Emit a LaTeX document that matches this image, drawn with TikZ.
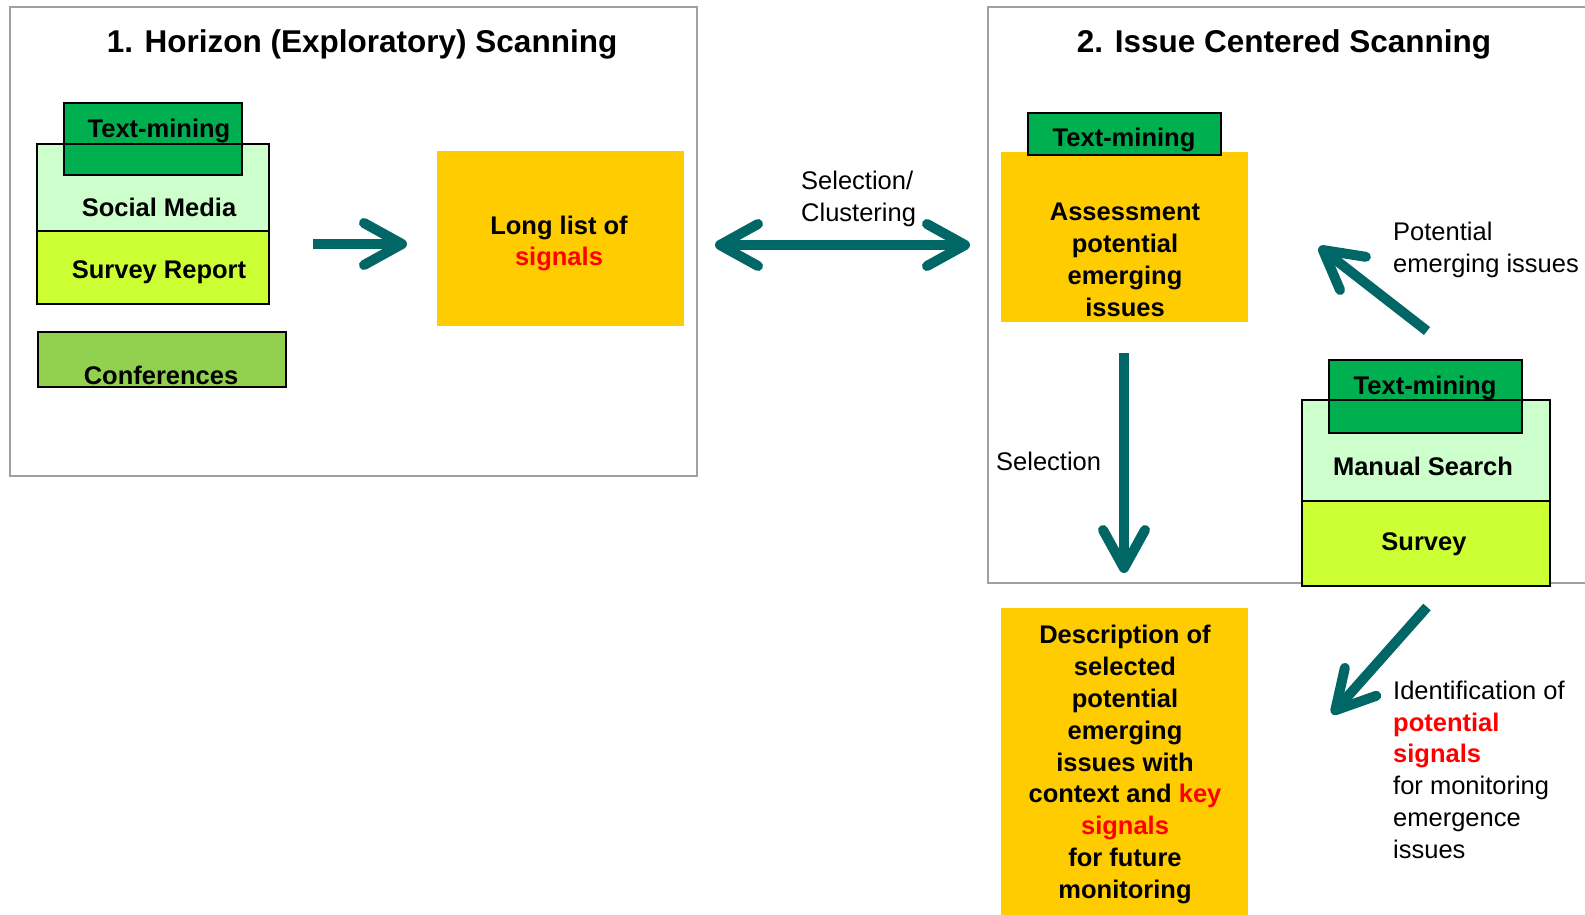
\documentclass[tikz,border=0pt]{standalone}
\usepackage{fontspec}
\setmainfont{Liberation Sans}
\usetikzlibrary{arrows.meta}
\definecolor{tmgreen}{HTML}{00B050}
\definecolor{palegreen}{HTML}{CCFFCC}
\definecolor{limegreen}{HTML}{CCFF33}
\definecolor{confgreen}{HTML}{92D050}
\definecolor{boxorange}{HTML}{FFCC00}
\definecolor{flowteal}{HTML}{006666}
\definecolor{panelgray}{HTML}{A0A0A0}
\definecolor{sigred}{HTML}{FF0000}
\begin{document}
\begin{tikzpicture}[x=1pt,y=-1pt,
  box/.style={draw=black,line width=1.8pt,anchor=north west,inner sep=0pt,outer sep=0pt},
  plainbox/.style={anchor=north west,inner sep=0pt,outer sep=0pt},
  panel/.style={draw=panelgray,line width=1.2pt},
  btext/.style={font=\fontsize{25.5}{31.9}\selectfont\bfseries,align=center,inner sep=0pt},
  rtext/.style={font=\fontsize{25.5}{31.9}\selectfont,align=left,inner sep=0pt},
  ttext/.style={font=\fontsize{31.5}{36}\selectfont\bfseries,inner sep=0pt},
  barbtip/.tip={Straight Barb[length=38pt,width=42pt,round]},
  flow/.style={draw=flowteal,line width=10pt,-{barbtip}},
  flowboth/.style={draw=flowteal,line width=10pt,{barbtip}-{barbtip}}]

\clip (0,0) rectangle (1585,914);
\fill[white] (0,0) rectangle (1585,914);

% ---------- panel 1: horizon scanning ----------
\draw[panel] (10,7) rectangle (697,476);
\node[ttext] (title1) at (362,44.5) {1. Horizon (Exploratory) Scanning};

\node[box,fill=palegreen,minimum width=232pt,minimum height=87pt] (sm) at (37,144) {};
\node[box,fill=tmgreen,minimum width=178pt,minimum height=72pt] (tm1) at (64,103) {};
\draw[line width=1.8pt] (sm.north west) -- (sm.north east);
\node[box,fill=limegreen,minimum width=232pt,minimum height=73pt] (sr) at (37,231) {};
\node[box,fill=confgreen,minimum width=248pt,minimum height=55pt] (conf) at (38,332) {};

\node[btext] (tm1t) at (159,130.5) {Text-mining};
\node[btext] (smt) at (159,207.5) {Social Media};
\node[btext] (srt) at (159,272.5) {Survey Report};
\node[btext] (conft) at (161,375) {Conferences};

\node[plainbox,fill=boxorange,minimum width=247pt,minimum height=175pt] (long) at (437,151) {};
\node[btext] (longt) at (559,243.5) {Long list of\\\textcolor{sigred}{signals}};

\coordinate (a1s) at (313,244);
\coordinate (a1e) at (407,244);
\draw[flow] (a1s) -- (a1e);

% ---------- link between the panels ----------
\coordinate (dl) at (715,245);
\coordinate (dr) at (970,245);
\draw[flowboth] (dl) -- (dr);
\node[rtext,anchor=north west] (selclus) at (801,170.5) {Selection/\\Clustering};

% ---------- panel 2: issue centered scanning ----------
\draw[panel] (1600,7) -- (988,7) -- (988,583) -- (1600,583);
\node[ttext] (title2) at (1284,44.5) {2. Issue Centered Scanning};

\node[plainbox,fill=boxorange,minimum width=247pt,minimum height=170pt] (assess) at (1001,152) {};
\node[box,fill=tmgreen,minimum width=193pt,minimum height=42pt] (tm2) at (1028,113) {};
\node[btext] (tm2t) at (1124,139.5) {Text-mining};
\node[btext] (assesst) at (1125,259.5) {Assessment\\potential\\emerging\\issues};

\coordinate (sels) at (1124,353);
\coordinate (sele) at (1124,573);
\draw[flow] (sels) -- (sele);
\node[rtext,anchor=west] (selt) at (996,461) {Selection};

\node[box,fill=palegreen,minimum width=248pt,minimum height=101pt] (ms) at (1302,400) {};
\node[box,fill=tmgreen,minimum width=193pt,minimum height=73pt] (tm3) at (1329,360) {};
\draw[line width=1.8pt] (ms.north west) -- (ms.north east);
\node[box,fill=limegreen,minimum width=248pt,minimum height=85pt] (sv) at (1302,501) {};
\node[btext] (tm3t) at (1425,387.5) {Text-mining};
\node[btext] (mst) at (1423,466) {Manual Search};
\node[btext] (svt) at (1424,544.5) {Survey};

\coordinate (ups) at (1427,331);
\coordinate (upe) at (1319,247);
\draw[flow] (ups) -- (upe);
\node[rtext,anchor=north west] (pot) at (1393,221.5) {Potential\\emerging issues};

\node[plainbox,fill=boxorange,minimum width=247pt,minimum height=330pt] (desc) at (1001,608) {};
\node[btext] (desct) at (1125,764.5) {Description of\\selected\\potential\\emerging\\issues with\\context and \textcolor{sigred}{key}\\\textcolor{sigred}{signals}\\for future\\monitoring};

\coordinate (dns) at (1427,607);
\coordinate (dne) at (1332,714);
\draw[flow] (dns) -- (dne);
\node[rtext,anchor=north west] (ident) at (1393,680.5) {Identification of\\\textcolor{sigred}{\bfseries potential}\\\textcolor{sigred}{\bfseries signals}\\for monitoring\\emergence\\issues};

\end{tikzpicture}
\end{document}
